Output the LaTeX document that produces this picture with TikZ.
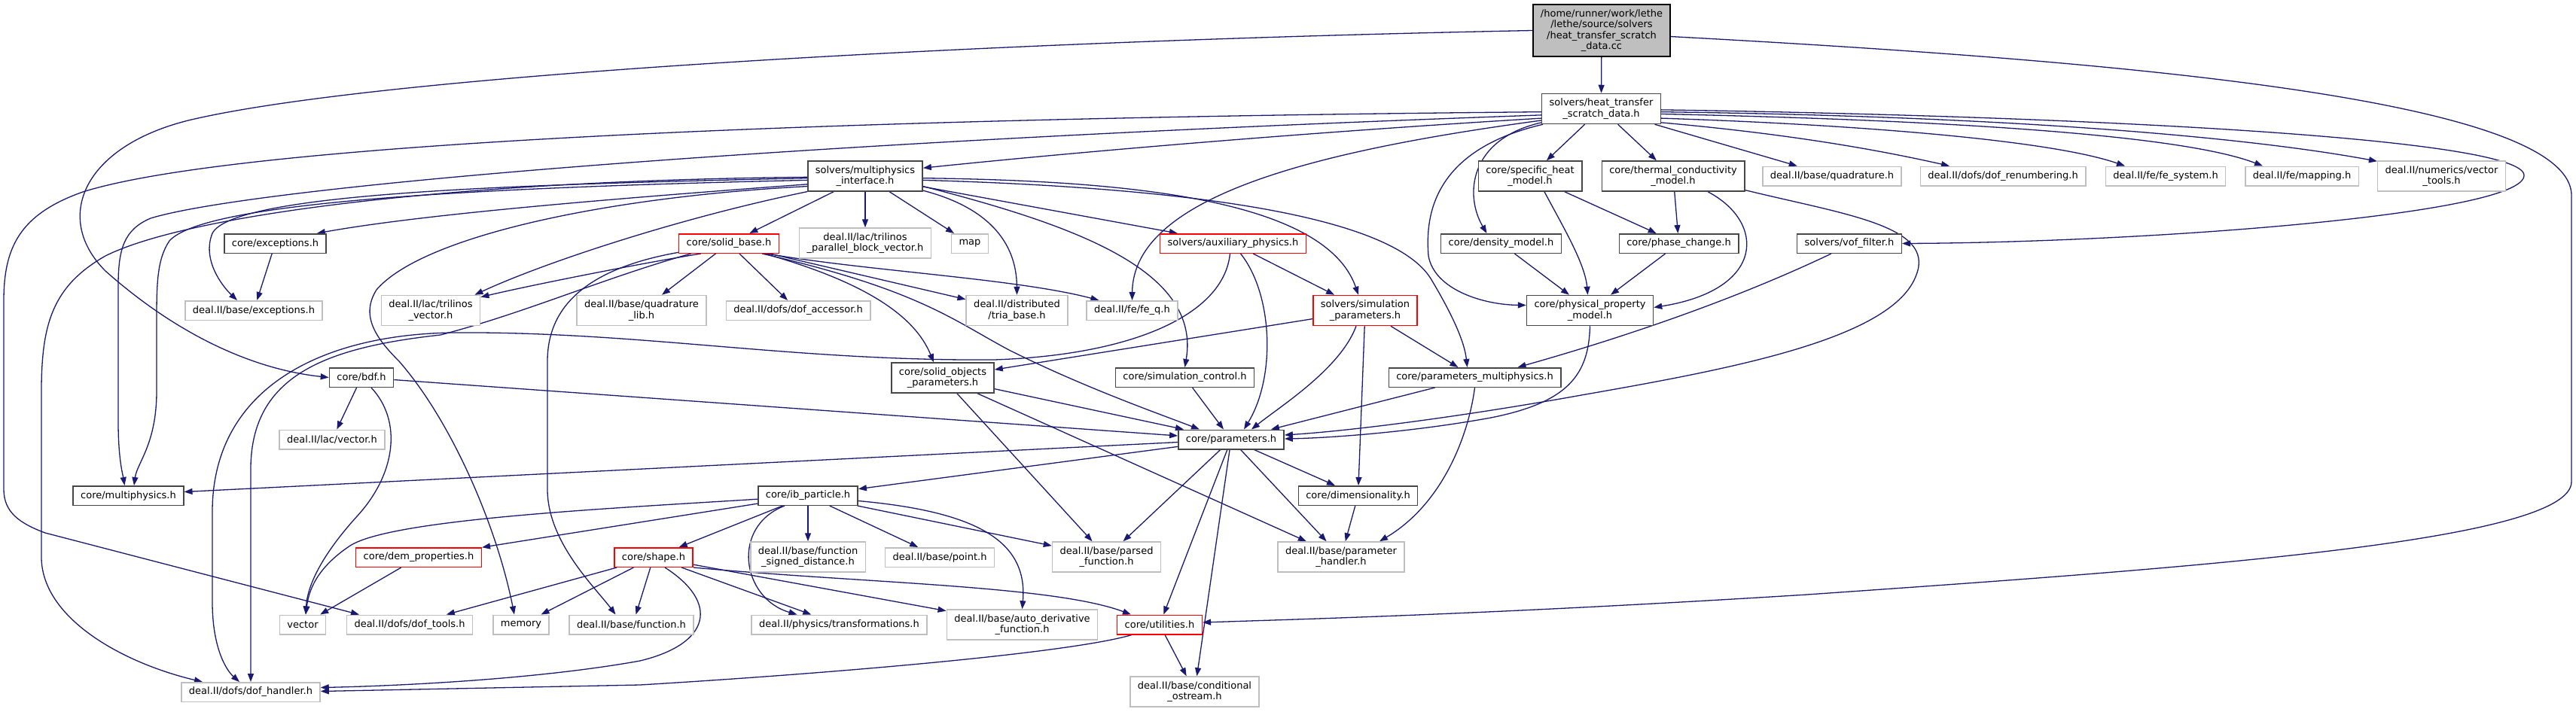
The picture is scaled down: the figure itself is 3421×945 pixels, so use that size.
\documentclass[tikz,border=0pt]{standalone}
\usepackage{fontspec}
\setmainfont{DejaVu Sans}
\usetikzlibrary{arrows.meta,backgrounds}

\definecolor{edgeblue}{RGB}{25,25,112}
\definecolor{hdrgray}{RGB}{70,70,70}
\definecolor{extgray}{RGB}{191,191,191}

\begin{document}
\begin{tikzpicture}[
  x=1pt, y=-1pt,
  >={Triangle[length=11pt,width=8pt]},
  every node/.style={font=\fontsize{13}{14.5}\selectfont, align=center, fill=white,
    inner xsep=10pt, inner ysep=0pt, minimum height=25.5pt, line width=1.5pt},
  header/.style={draw=hdrgray},
  extfile/.style={draw=extgray},
  partial/.style={draw=red},
  srcfile/.style={draw=black, fill=extgray, minimum height=69pt},
  two/.style={minimum height=40pt},
  dep/.style={->, draw=edgeblue, line width=1.3pt}
]
\useasboundingbox (0,0) rectangle (3421,945);

% top rows
\node[srcfile] (root) at (2127,40.5) {/home/runner/work/lethe\\/lethe/source/solvers\\/heat\_transfer\_scratch\\\_data.cc};
\node[header,two] (htsd) at (2126.5,144.5) {solvers/heat\_transfer\\\_scratch\_data.h};
\node[header,two] (mpi) at (1149,234) {solvers/multiphysics\\\_interface.h};
\node[header,two] (shm) at (2032,234) {core/specific\_heat\\\_model.h};
\node[header,two] (tcm) at (2222,234) {core/thermal\_conductivity\\\_model.h};
\node[extfile] (quad) at (2433,234) {deal.II/base/quadrature.h};
\node[extfile] (dofrenum) at (2660,234) {deal.II/dofs/dof\_renumbering.h};
\node[extfile] (fesys) at (2876,234) {deal.II/fe/fe\_system.h};
\node[extfile] (mapping) at (3057,234) {deal.II/fe/mapping.h};
\node[extfile,two] (vtools) at (3242.5,234) {deal.II/numerics/vector\\\_tools.h};

\node[header] (exc) at (365.5,323.5) {core/exceptions.h};
\node[partial] (solidbase) at (968,323.5) {core/solid\_base.h};
\node[extfile,two] (tpbv) at (1149,323) {deal.II/lac/trilinos\\\_parallel\_block\_vector.h};
\node[extfile] (map) at (1288,323.5) {map};
\node[partial] (auxphys) at (1637.5,323.5) {solvers/auxiliary\_physics.h};
\node[header] (dens) at (1993.5,323.5) {core/density\_model.h};
\node[header] (phase) at (2229.5,323.5) {core/phase\_change.h};
\node[header] (vof) at (2456,323.5) {solvers/vof\_filter.h};

\node[extfile] (baseexc) at (337,412.5) {deal.II/base/exceptions.h};
\node[extfile,two] (trilvec) at (572,412.5) {deal.II/lac/trilinos\\\_vector.h};
\node[extfile,two] (quadlib) at (852,412.5) {deal.II/base/quadrature\\\_lib.h};
\node[extfile] (dofacc) at (1060,412.5) {deal.II/dofs/dof\_accessor.h};
\node[extfile,two] (triabase) at (1350.5,412.5) {deal.II/distributed\\/tria\_base.h};
\node[extfile] (feq) at (1503.5,412.5) {deal.II/fe/fe\_q.h};
\node[partial,two] (simparam) at (1813,412.5) {solvers/simulation\\\_parameters.h};
\node[header,two] (ppm) at (2111.5,412.5) {core/physical\_property\\\_model.h};

% middle rows
\node[header] (bdf) at (480,501.5) {core/bdf.h};
\node[header,two] (sop) at (1252,502) {core/solid\_objects\\\_parameters.h};
\node[header] (simctrl) at (1573.5,501.5) {core/simulation\_control.h};
\node[header] (pmph) at (1958.5,501.5) {core/parameters\_multiphysics.h};
\node[extfile] (lacvec) at (441,584) {deal.II/lac/vector.h};
\node[header] (params) at (1635,584) {core/parameters.h};
\node[header] (mph) at (170.5,658.5) {core/multiphysics.h};
\node[header] (ibp) at (1073,658.5) {core/ib\_particle.h};
\node[header] (dim) at (1803.5,658.5) {core/dimensionality.h};

% bottom rows
\node[partial] (dem) at (556,740.5) {core/dem\_properties.h};
\node[partial] (shape) at (868,740.5) {core/shape.h};
\node[extfile,two] (fsd) at (1073,740) {deal.II/base/function\\\_signed\_distance.h};
\node[extfile] (pointh) at (1248,740.5) {deal.II/base/point.h};
\node[extfile,two] (parsedf) at (1469.5,740) {deal.II/base/parsed\\\_function.h};
\node[extfile,two] (ph) at (1781,740) {deal.II/base/parameter\\\_handler.h};
\node[extfile] (vector) at (402,830) {vector};
\node[extfile] (doftools) at (544,830) {deal.II/dofs/dof\_tools.h};
\node[extfile] (memory) at (692,830) {memory};
\node[extfile] (basefunc) at (838.5,830) {deal.II/base/function.h};
\node[extfile] (transf) at (1114.5,830) {deal.II/physics/transformations.h};
\node[extfile,two] (autod) at (1357.5,830) {deal.II/base/auto\_derivative\\\_function.h};
\node[partial] (util) at (1540,830) {core/utilities.h};
\node[extfile] (dofhandler) at (333,919.5) {deal.II/dofs/dof\_handler.h};
\node[extfile,two] (condos) at (1586.5,919) {deal.II/base/conditional\\\_ostream.h};

\begin{pgfonlayer}{background}
\fill[white] (0,0) rectangle (3421,945);

% source file
\draw[dep] (root) -- (htsd);
\draw[dep] (root.west) .. controls (1300,55) and (500,100) .. (250,160) .. controls (110,195) and (70,290) .. (140,360) .. controls (230,440) and (330,490) .. (bdf.west);
\draw[dep] (root.-5) .. controls (2800,80) and (3415,130) .. (3415,260) -- (3415,640) .. controls (3415,720) and (2900,755) .. (2400,790) .. controls (2000,815) and (1750,822) .. ([yshift=3pt]util.east);

% heat transfer scratch data
\draw[dep] (htsd) -- (shm);
\draw[dep] (htsd) -- (tcm);
\draw[dep] (htsd) -- (quad);
\draw[dep] (htsd.-13) .. controls (2400,180) and (2520,205) .. ([xshift=-71pt]dofrenum.north);
\draw[dep] (htsd.-9) .. controls (2450,165) and (2720,185) .. ([xshift=-54pt]fesys.north);
\draw[dep] (htsd.-5) .. controls (2600,160) and (2900,180) .. ([xshift=-52pt]mapping.north);
\draw[dep] (htsd.-3) .. controls (2700,155) and (3000,185) .. (vtools.167);
\draw[dep] (htsd.-1) .. controls (2800,155) and (3352,185) .. (3352,233) .. controls (3352,285) and (2850,322) .. (vof.east);
\draw[dep] (htsd.189) .. controls (1750,175) and (1450,200) .. (mpi.8);
\draw[dep] (htsd.193) .. controls (1950,185) and (1945,260) .. ([xshift=-19pt]dens.north);
\draw[dep] (htsd.195) .. controls (1900,200) and (1893,290) .. (1897,340) .. controls (1905,385) and (1970,405) .. ([yshift=7pt]ppm.west);
\draw[dep] (htsd.191) .. controls (1750,200) and (1505,260) .. (feq.north);
\draw[dep] (htsd.183) .. controls (1000,158) and (300,195) .. (110,255) .. controls (25,285) and (5,330) .. (5,400) -- (5,650) .. controls (5,680) and (25,695) .. (60,708) -- ([xshift=-67pt]doftools.north);
\draw[dep] (htsd.186) .. controls (1000,190) and (330,250) .. (200,290) .. controls (165,305) and (157,330) .. (157,380) -- (157,560) .. controls (157,610) and (163,630) .. ([xshift=-5pt]mph.north);

% multiphysics interface
\draw[dep] (mpi) -- (solidbase);
\draw[dep] (mpi) -- (tpbv);
\draw[dep] (mpi) -- (map);
\draw[dep] (mpi) -- (auxphys);
\draw[dep] (mpi.188) .. controls (800,265) and (560,285) .. ([xshift=-13pt]exc.north east);
\draw[dep] (mpi.182) .. controls (700,245) and (310,255) .. (282,310) .. controls (268,345) and (295,380) .. ([xshift=-22pt]baseexc.north);
\draw[dep] (mpi.195) .. controls (900,290) and (720,350) .. ([xshift=-8pt]trilvec.north east);
\draw[dep] (mpi.-14) .. controls (1310,275) and (1350,320) .. (triabase.north);
\draw[dep] (mpi.-2) .. controls (1500,240) and (1760,265) .. ([xshift=-9pt]simparam.north);
\draw[dep] (mpi.-4) .. controls (1600,250) and (1850,290) .. (1900,370) .. controls (1930,420) and (1945,455) .. ([xshift=-10pt]pmph.north);
\draw[dep] (mpi.-10) .. controls (1430,300) and (1595,360) .. (simctrl.north);
\draw[dep] (mpi.181) .. controls (600,240) and (250,285) .. (140,340) .. controls (70,380) and (55,430) .. (55,520) -- (55,740) .. controls (55,820) and (160,880) .. ([xshift=-64pt]dofhandler.north);
\draw[dep] (mpi.184) .. controls (600,250) and (270,270) .. (225,320) .. controls (208,345) and (208,380) .. (208,430) -- (208,520) .. controls (208,590) and (182,615) .. ([xshift=7.5pt]mph.north);
\draw[dep] (mpi.190) .. controls (800,262) and (560,315) .. (500,385) .. controls (478,420) and (500,450) .. (530,480) .. controls (600,560) and (660,700) .. ([xshift=-9pt]memory.north);

% solid base
\draw[dep] (solidbase) -- (quadlib);
\draw[dep] (solidbase) -- (dofacc);
\draw[dep] (solidbase.-14) -- ([yshift=-6pt]triabase.north west);
\draw[dep] (solidbase.-160) .. controls (850,350) and (700,380) .. ([yshift=-3pt]trilvec.north east);
\draw[dep] (solidbase.-15) .. controls (1150,360) and (1350,370) .. ([xshift=-44pt]feq.north);
\draw[dep] (solidbase.-16) .. controls (1150,375) and (1215,420) .. ([xshift=-12pt]sop.north);
\draw[dep] (solidbase.-17) .. controls (1220,385) and (1265,425) .. (1340,465) .. controls (1440,515) and (1540,550) .. ([xshift=-42pt]params.north);
\draw[dep] (solidbase.-165) .. controls (800,370) and (700,415) .. (585,445) .. controls (430,462) and (335,500) .. (333,620) -- (dofhandler.north);
\draw[dep] (solidbase.-170) .. controls (790,355) and (727,400) .. (727,480) -- (727,650) .. controls (727,720) and (790,780) .. ([xshift=-21pt]basefunc.north);

% auxiliary physics and simulation parameters
\draw[dep] (auxphys) -- (simparam);
\draw[dep] ([xshift=10pt]auxphys.south) .. controls (1690,390) and (1695,500) .. ([xshift=17pt]params.north);
\draw[dep] ([xshift=-4pt]auxphys.south) .. controls (1625,420) and (1500,472) .. (1320,478) .. controls (1050,480) and (850,440) .. (600,442) .. controls (420,445) and (282,520) .. (282,680) -- (282,800) .. controls (282,860) and (300,890) .. ([xshift=-15pt]dofhandler.north);
\draw[dep] (simparam) -- (sop);
\draw[dep] (simparam) -- (pmph);
\draw[dep] (simparam) -- (dim);
\draw[dep] ([xshift=-12pt]simparam.south) .. controls (1780,490) and (1700,540) .. ([xshift=27pt]params.north);

% models
\draw[dep] (exc) -- (baseexc);
\draw[dep] (shm) -- (phase);
\draw[dep] ([xshift=19pt]shm.south) .. controls (2075,300) and (2105,350) .. ([xshift=-3pt]ppm.north);
\draw[dep] (tcm) -- (phase);
\draw[dep] ([xshift=46pt]tcm.south) .. controls (2345,295) and (2345,385) .. ([yshift=4pt]ppm.east);
\draw[dep] (tcm.-11) .. controls (2450,285) and (2570,300) .. (2545,365) .. controls (2515,450) and (2300,490) .. (2100,525) .. controls (1950,552) and (1800,572) .. ([yshift=6pt]params.east);
\draw[dep] (phase) -- (ppm);
\draw[dep] (dens) -- (ppm);
\draw[dep] ([xshift=-24pt]vof.south) .. controls (2300,400) and (2150,450) .. ([xshift=57pt]pmph.north);
\draw[dep] (ppm.south) .. controls (2110,500) and (2080,535) .. (1980,555) .. controls (1870,575) and (1760,582) .. ([yshift=1pt]params.east);

% bdf, solid objects, parameters
\draw[dep] (bdf) -- (lacvec);
\draw[dep] (bdf) -- (params);
\draw[dep] ([xshift=13pt]bdf.south) .. controls (535,560) and (525,630) .. (475,685) .. controls (425,740) and (408,780) .. ([xshift=4pt]vector.north);
\draw[dep] (sop) -- (params);
\draw[dep] (sop) -- (parsedf);
\draw[dep] (sop) -- (ph);
\draw[dep] (simctrl) -- (params);
\draw[dep] (pmph) -- (params);
\draw[dep] (pmph.south) .. controls (1950,580) and (1915,670) .. ([xshift=51pt]ph.north);
\draw[dep] (params) -- ([yshift=5pt]mph.east);
\draw[dep] (params) -- (ibp);
\draw[dep] (params) -- (parsedf);
\draw[dep] (params) -- (util);
\draw[dep] (params) -- (condos);
\draw[dep] (params) -- (ph);
\draw[dep] (params) -- (dim);
\draw[dep] (dim) -- (ph);

% ib particle and shape
\draw[dep] (ibp) -- (dem);
\draw[dep] (ibp) -- (shape);
\draw[dep] (ibp) -- (fsd);
\draw[dep] (ibp) -- (pointh);
\draw[dep] (ibp) -- (parsedf);
\draw[dep] (ibp.-176) .. controls (800,676) and (520,690) .. (465,725) .. controls (420,755) and (410,785) .. ([xshift=4pt]vector.north);
\draw[dep] ([xshift=-31pt]ibp.south) .. controls (970,700) and (985,795) .. ([xshift=-56pt]transf.north);
\draw[dep] ([yshift=-7pt]ibp.east) .. controls (1300,680) and (1365,720) .. (autod.north);
\draw[dep] (dem) -- (vector);
\draw[dep] (shape) -- (doftools);
\draw[dep] (shape) -- (memory);
\draw[dep] (shape) -- ([xshift=6pt]basefunc.north);
\draw[dep] (shape) -- (transf);
\draw[dep] (shape) -- (autod);
\draw[dep] ([xshift=15pt]shape.south) .. controls (955,800) and (945,855) .. (850,878) .. controls (700,905) and (500,912) .. ([yshift=6pt]dofhandler.east);
\draw[dep] (shape.south east) .. controls (1150,775) and (1400,778) .. ([xshift=-38pt]util.north);

% utilities
\draw[dep] (util) -- (condos);
\draw[dep] ([xshift=-37pt]util.south) .. controls (1420,868) and (1100,895) .. (850,910) -- ([yshift=1pt]dofhandler.east);
\end{pgfonlayer}
\end{tikzpicture}
\end{document}
